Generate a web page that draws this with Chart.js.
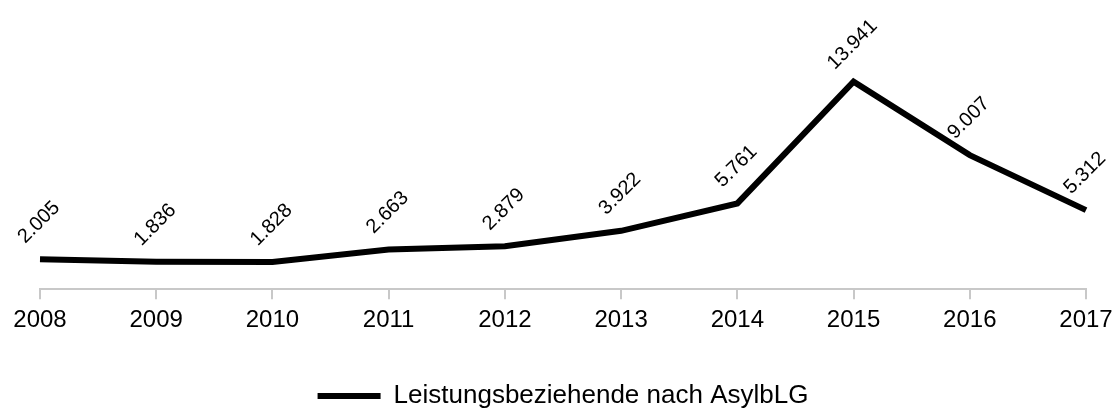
<!DOCTYPE html>
<html>
<head>
<meta charset="utf-8">
<script src="https://cdn.jsdelivr.net/npm/chart.js@4/dist/chart.umd.min.js"></script>
<style>
  html, body { margin: 0; padding: 0; background: #fff; overflow: hidden; }
  #wrap { width: 1114px; height: 410px; }
</style>
</head>
<body>
<div id="wrap"><canvas id="chart" width="1114" height="410"></canvas></div>
<script>
const years = ['2008', '2009', '2010', '2011', '2012', '2013', '2014', '2015', '2016', '2017'];
const recipients = [2005, 1836, 1828, 2663, 2879, 3922, 5761, 13941, 9007, 5312];
const seriesName = 'Leistungsbeziehende nach AsylbLG';

const FONT = "'Liberation Sans', Arial, sans-serif";

function fmt(v) {
    return String(v).replace(/\B(?=(\d{3})+(?!\d))/g, '.');
}

// rotated value labels above each point
const valueLabels = {
    id: 'valueLabels',
    afterDatasetsDraw(chart) {
        const ctx = chart.ctx;
        const meta = chart.getDatasetMeta(0);
        ctx.save();
        ctx.font = '20px ' + FONT;
        ctx.fillStyle = '#000';
        ctx.textAlign = 'center';
        ctx.textBaseline = 'middle';
        meta.data.forEach((pt, i) => {
            ctx.save();
            ctx.translate(pt.x - 1, pt.y - 37);
            ctx.rotate(-Math.PI / 4);
            ctx.fillText(fmt(recipients[i]), 0, 0);
            ctx.restore();
        });
        ctx.restore();
    }
};

new Chart(document.getElementById('chart'), {
    type: 'line',
    data: {
        labels: years,
        datasets: [{
            label: seriesName,
            data: recipients,
            borderColor: '#000',
            backgroundColor: '#000',
            borderWidth: 6,
            borderJoinStyle: 'miter',
            borderCapStyle: 'butt',
            tension: 0,
            pointRadius: 0,
            fill: false,
        }],
    },
    options: {
        responsive: false,
        animation: false,
        layout: { padding: { left: 40, right: 28, top: 51, bottom: -9 } },
        scales: {
            x: {
                offset: false,
                afterFit(scale) {
                    // keep the plot edges where the padding puts them
                    scale.paddingLeft = 0;
                    scale.paddingRight = 0;
                },
                grid: {
                    drawOnChartArea: false,
                    drawTicks: true,
                    tickLength: 10,
                    color: '#c8c8c8',
                    lineWidth: 2,
                },
                border: { color: '#c8c8c8', width: 2 },
                ticks: {
                    color: '#000',
                    padding: 7,
                    font: { family: FONT, size: 24 },
                    maxRotation: 0,
                    autoSkip: false,
                },
            },
            y: {
                display: false,
                min: 0,
                max: 16000,
            },
        },
        plugins: {
            legend: {
                position: 'bottom',
                labels: {
                    color: '#000',
                    font: { family: FONT, size: 26 },
                    boxWidth: 63,
                    boxHeight: 6,
                    padding: 41,
                    generateLabels(chart) {
                        return Chart.defaults.plugins.legend.labels.generateLabels(chart).map(item => {
                            item.fillStyle = '#000';
                            item.lineWidth = 0;
                            return item;
                        });
                    },
                },
            },
            tooltip: { enabled: false },
        },
    },
    plugins: [valueLabels],
});
</script>
</body>
</html>
